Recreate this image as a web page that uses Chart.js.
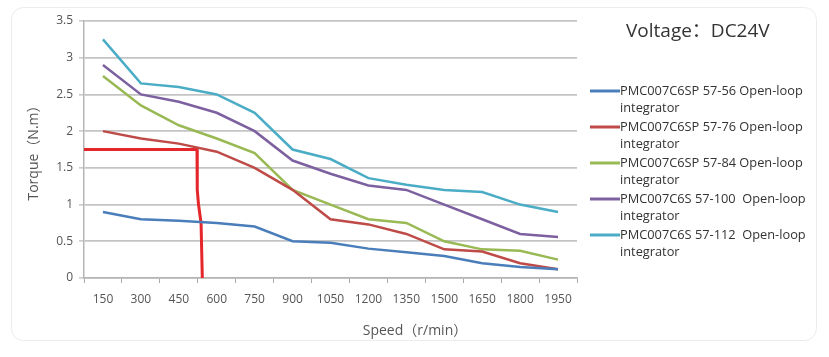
<!DOCTYPE html>
<html>
<head>
<meta charset="utf-8">
<script src="https://cdn.jsdelivr.net/npm/chart.js@4"></script>
<style>
html,body{margin:0;padding:0;background:#fff;}
#wrap{position:relative;width:829px;height:357px;}
</style>
</head>
<body>
<div id="wrap"><canvas id="c" width="829" height="357"></canvas></div>
<script>
// ---- data ----
const speeds = ['150','300','450','600','750','900','1050','1200','1350','1500','1650','1800','1950'];
const torque5756  = [0.9, 0.8, 0.78, 0.75, 0.7, 0.5, 0.48, 0.4, 0.35, 0.3, 0.2, 0.15, 0.12];
const torque5776  = [2.0, 1.9, 1.83, 1.72, 1.5, 1.2, 0.8, 0.73, 0.6, 0.39, 0.36, 0.2, 0.12];
const torque5784  = [2.75, 2.35, 2.08, 1.9, 1.7, 1.2, 1.0, 0.8, 0.75, 0.5, 0.39, 0.37, 0.25];
const torque57100 = [2.9, 2.5, 2.4, 2.25, 2.0, 1.6, 1.42, 1.26, 1.2, 1.0, 0.8, 0.6, 0.56];
const torque57112 = [3.25, 2.65, 2.6, 2.5, 2.25, 1.75, 1.62, 1.36, 1.27, 1.2, 1.17, 1.0, 0.9];
const seriesNames = [
  ['PMC007C6SP 57-56 Open-loop', 'integrator'],
  ['PMC007C6SP 57-76 Open-loop', 'integrator'],
  ['PMC007C6SP 57-84 Open-loop', 'integrator'],
  ['PMC007C6S 57-100  Open-loop', 'integrator'],
  ['PMC007C6S 57-112  Open-loop', 'integrator']
];
// operating-point marker (speed in r/min, torque in N.m)
const markerSpeed  = [75, 522, 523, 528, 538, 543];
const markerTorque = [1.75, 1.75, 1.2, 1.0, 0.75, 0];
const titleText = 'Voltage：DC24V';
const xTitle = 'Speed（r/min）';
const yTitle = 'Torque（N.m）';

const colors = ['#4a7ebb', '#be4b48', '#98b954', '#7d60a0', '#4bacc6'];
const seriesData = [torque5756, torque5776, torque5784, torque57100, torque57112];

const datasets = seriesData.map((d, i) => ({
  label: seriesNames[i].join(' '),
  data: d,
  borderColor: colors[i],
  backgroundColor: colors[i],
  borderWidth: 2.5,
  pointRadius: 0,
  tension: 0,
  xAxisID: 'x',
  yAxisID: 'y'
}));
datasets.push({
  label: 'marker',
  data: markerSpeed.map((s, i) => ({x: s, y: markerTorque[i]})),
  borderColor: '#e5262b',
  borderWidth: 3,
  pointRadius: 0,
  tension: 0,
  xAxisID: 'x2',
  yAxisID: 'y'
});

const FONT = '"Open Sans", "Noto Sans CJK SC", sans-serif';

const decor = {
  id: 'decor',
  beforeDraw(chart) {
    const ctx = chart.ctx;
    ctx.save();
    ctx.fillStyle = '#fff';
    ctx.fillRect(0, 0, chart.width, chart.height);
    ctx.strokeStyle = '#ececec';
    ctx.lineWidth = 1;
    ctx.beginPath();
    ctx.roundRect(11.5, 7.5, 805, 333, 12);
    ctx.stroke();
    ctx.restore();
  },
  afterDraw(chart) {
    const ctx = chart.ctx;
    ctx.save();
    // title
    ctx.fillStyle = '#333';
    ctx.font = '19px ' + FONT;
    ctx.textAlign = 'left';
    ctx.textBaseline = 'middle';
    ctx.fillText(titleText, 626, 32);
    // x-axis title
    ctx.fillStyle = '#555';
    ctx.font = '14px ' + FONT;
    ctx.textAlign = 'center';
    ctx.fillText(xTitle, 415, 331);
    // legend
    ctx.font = '12.8px ' + FONT;
    ctx.textAlign = 'left';
    for (let i = 0; i < seriesNames.length; i++) {
      const y = 91 + i * 36;
      ctx.strokeStyle = colors[i];
      ctx.lineWidth = 3;
      ctx.beginPath();
      ctx.moveTo(590, y);
      ctx.lineTo(620, y);
      ctx.stroke();
      ctx.fillStyle = '#333';
      ctx.fillText(seriesNames[i][0], 620, y);
      ctx.fillText(seriesNames[i][1], 620, y + 17.5);
    }
    ctx.restore();
  }
};

new Chart(document.getElementById('c'), {
  type: 'line',
  data: { labels: speeds, datasets },
  options: {
    responsive: false,
    devicePixelRatio: 1,
    animation: false,
    layout: { padding: { left: 0, right: 252, top: 21, bottom: 0 } },
    plugins: { legend: { display: false }, tooltip: { enabled: false } },
    scales: {
      x: {
        type: 'category',
        offset: true,
        afterFit(s) { s.height = 79; },
        grid: { display: true, offset: true, drawOnChartArea: false, drawTicks: true, tickLength: 5, color: '#aaa', lineWidth: 1 },
        border: { display: true, color: '#b5b5b5', width: 1.5 },
        ticks: { color: '#555', font: { family: FONT, size: 12 }, padding: 9, maxRotation: 0, autoSkip: false }
      },
      x2: {
        type: 'linear',
        display: false,
        min: 75,
        max: 2025
      },
      y: {
        min: 0,
        max: 3.5,
        afterFit(s) { s.width = 84; },
        ticks: { stepSize: 0.5, color: '#555', font: { family: FONT, size: 12 }, padding: 6,
                 callback: (v) => String(Math.round(v * 10) / 10) },
        grid: { color: '#c4c4c4', lineWidth: 1.8, tickLength: 5, tickColor: '#aaa', tickWidth: 1 },
        border: { display: true, color: '#b5b5b5', width: 1.5 },
        title: { display: true, text: yTitle, color: '#555', font: { family: FONT, size: 14 }, padding: { top: 26, bottom: 0 } }
      }
    }
  },
  plugins: [decor]
});
</script>
</body>
</html>
